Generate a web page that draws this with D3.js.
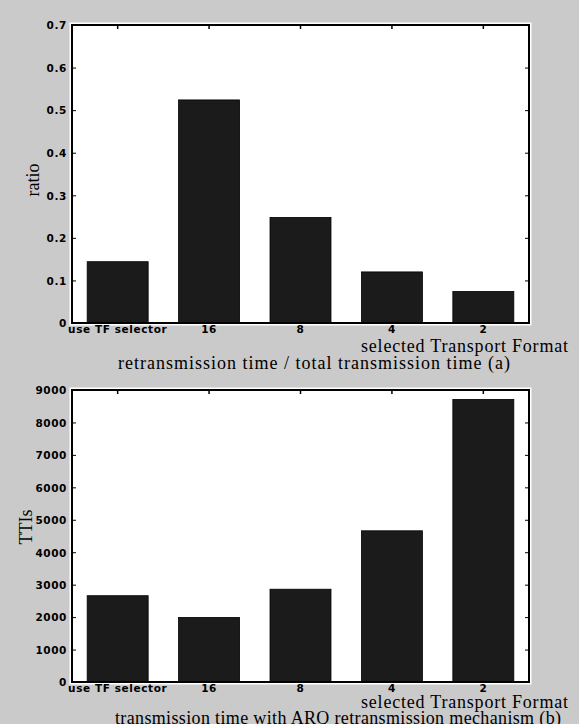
<!DOCTYPE html>
<html>
<head>
<meta charset="utf-8">
<script src="https://cdn.jsdelivr.net/npm/d3@7/dist/d3.min.js"></script>
<style>
  html, body { margin: 0; padding: 0; background: #cacaca; }
  svg { display: block; }
  .tick-label { font-family: "DejaVu Sans", sans-serif; font-weight: bold; font-size: 10.5px; letter-spacing: 0.6px; fill: #000; }
  .serif { font-family: "Liberation Serif", "Times New Roman", serif; fill: #000; }
</style>
</head>
<body>
<svg id="chart" width="579" height="724"></svg>
<script>
// Transport format categories shared by both panels
const categories = ["use TF selector", "16", "8", "4", "2"];

// (a) retransmission time / total transmission time
const ratioValues = [0.144, 0.524, 0.248, 0.120, 0.074];
const ratioTicks = [0, 0.1, 0.2, 0.3, 0.4, 0.5, 0.6, 0.7];
const ratioTickLabels = ["0", "0.1", "0.2", "0.3", "0.4", "0.5", "0.6", "0.7"];

// (b) transmission time (TTIs) with ARQ retransmission
const ttiValues = [2660, 1990, 2860, 4660, 8710];
const ttiTicks = [0, 1000, 2000, 3000, 4000, 5000, 6000, 7000, 8000, 9000];
const ttiTickLabels = ["0", "1000", "2000", "3000", "4000", "5000", "6000", "7000", "8000", "9000"];

const svg = d3.select("#chart");
svg.append("rect").attr("width", 579).attr("height", 724).attr("fill", "#cacaca");

function panel(opts) {
  const { x0, x1, y0, y1, values, ticks, tickLabels, domainMax,
          ylabel, ylabelPos, xtitleBaseline, caption, captionX, captionLen, captionBaseline } = opts;

  const x = d3.scaleBand().domain(categories).range([x0, x1])
    .paddingInner(0.333).paddingOuter(0.166);
  const y = d3.scaleLinear().domain([0, domainMax]).range([y1, y0]);

  const g = svg.append("g");

  // plot area with a faint white halo around the frame
  g.append("rect")
    .attr("x", x0).attr("y", y0).attr("width", x1 - x0).attr("height", y1 - y0)
    .attr("fill", "#fff").attr("stroke", "#fff").attr("stroke-width", 5);

  // bars
  g.selectAll("rect.bar").data(values).join("rect")
    .attr("class", "bar")
    .attr("x", (d, i) => x(categories[i]))
    .attr("width", x.bandwidth())
    .attr("y", d => y(d))
    .attr("height", d => y(0) - y(d))
    .attr("fill", "#1b1b1b")
    .attr("stroke", "#000").attr("stroke-width", 0.8);

  // left axis: inward ticks, bold labels
  const left = d3.axisLeft(y).tickValues(ticks)
    .tickFormat((d, i) => tickLabels[i]).tickSizeInner(-4).tickSizeOuter(0).tickPadding(5);
  const la = g.append("g").attr("transform", `translate(${x0},0)`).call(left);
  la.select(".domain").remove();
  la.selectAll(".tick line").attr("stroke", "#000").attr("stroke-width", 1);
  la.selectAll(".tick text").attr("class", "tick-label").attr("x", -5).attr("dy", "0.36em");

  // right axis: inward ticks only
  const right = d3.axisRight(y).tickValues(ticks).tickFormat("").tickSizeInner(-4).tickSizeOuter(0);
  const ra = g.append("g").attr("transform", `translate(${x1},0)`).call(right);
  ra.select(".domain").remove();
  ra.selectAll(".tick line").attr("stroke", "#000").attr("stroke-width", 1);

  // top axis: inward ticks at bar centres
  const top = d3.axisTop(x).tickFormat("").tickSizeInner(-4).tickSizeOuter(0);
  const ta = g.append("g").attr("transform", `translate(0,${y0})`).call(top);
  ta.select(".domain").remove();
  ta.selectAll(".tick line").attr("stroke", "#000").attr("stroke-width", 1.5);

  // bottom category labels
  const bottom = d3.axisBottom(x).tickSize(0).tickPadding(3);
  const ba = g.append("g").attr("transform", `translate(0,${y1})`).call(bottom);
  ba.select(".domain").remove();
  ba.selectAll(".tick text").attr("class", "tick-label").attr("dy", "0.71em");

  // frame
  g.append("rect")
    .attr("x", x0).attr("y", y0).attr("width", x1 - x0).attr("height", y1 - y0)
    .attr("fill", "none").attr("stroke", "#000").attr("stroke-width", 2);

  // y label
  g.append("text").attr("class", "serif")
    .attr("transform", `translate(${ylabelPos[0]},${ylabelPos[1]}) rotate(-90)`)
    .attr("text-anchor", "middle").attr("dominant-baseline", "central")
    .attr("font-size", 18).text(ylabel);

  // x title
  g.append("text").attr("class", "serif")
    .attr("x", 361).attr("y", xtitleBaseline)
    .attr("font-size", 18).attr("textLength", 207).attr("lengthAdjust", "spacing")
    .text("selected Transport Format");

  // caption
  g.append("text").attr("class", "serif")
    .attr("x", captionX).attr("y", captionBaseline)
    .attr("font-size", 18).attr("textLength", captionLen).attr("lengthAdjust", "spacing")
    .text(caption);
}

panel({
  x0: 72, x1: 529, y0: 25, y1: 323,
  values: ratioValues, ticks: ratioTicks, tickLabels: ratioTickLabels, domainMax: 0.7,
  ylabel: "ratio", ylabelPos: [33, 180],
  xtitleBaseline: 352,
  caption: "retransmission time / total transmission time (a)",
  captionX: 118, captionLen: 392, captionBaseline: 369
});

panel({
  x0: 72, x1: 529, y0: 390, y1: 682,
  values: ttiValues, ticks: ttiTicks, tickLabels: ttiTickLabels, domainMax: 9000,
  ylabel: "TTIs", ylabelPos: [26, 527],
  xtitleBaseline: 708,
  caption: "transmission time with ARQ retransmission mechanism (b)",
  captionX: 115, captionLen: 446, captionBaseline: 724
});
</script>
</body>
</html>
